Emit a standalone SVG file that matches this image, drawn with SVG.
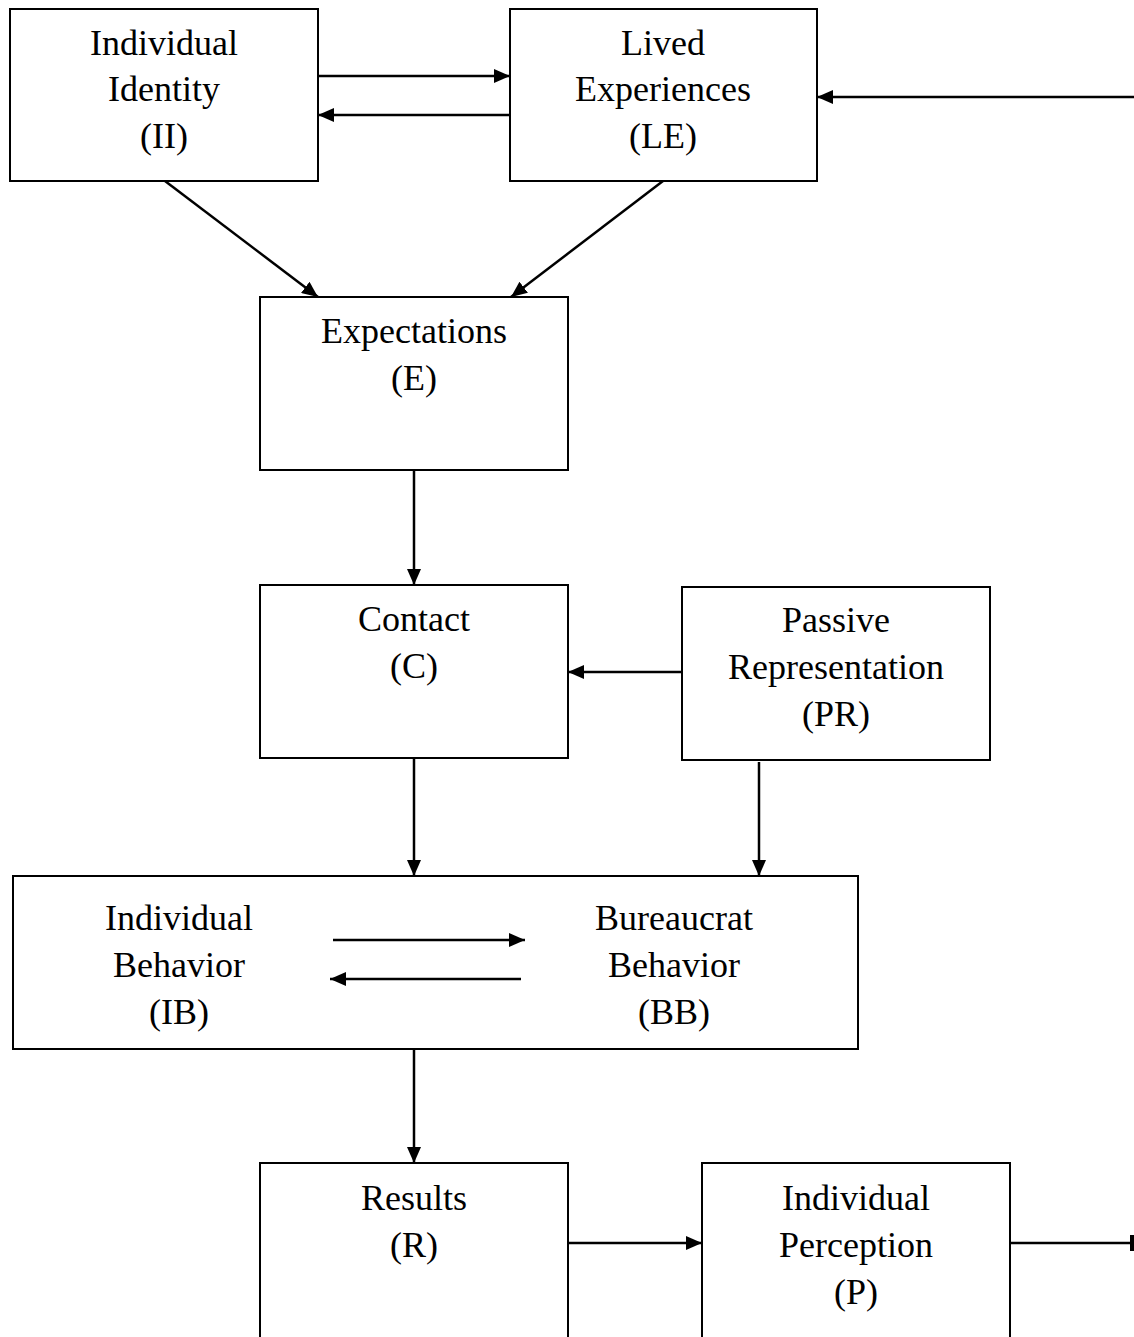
<svg xmlns="http://www.w3.org/2000/svg" width="1134" height="1337" viewBox="0 0 1134 1337">
<style>
.box{fill:#fff;stroke:#000;stroke-width:2}
.t{font-family:"Liberation Serif","Times New Roman",serif;font-size:36px;fill:#000;text-anchor:middle}
.c{stroke:#000;stroke-width:2.5;fill:none}
</style>
<defs>
<marker id="ah" viewBox="0 0 16 14" refX="16" refY="7" markerWidth="16" markerHeight="14" markerUnits="userSpaceOnUse" orient="auto">
<path d="M0,0 L16,7 L0,14 Z" fill="#000"/>
</marker>
<marker id="tick" viewBox="0 0 4 16" refX="2" refY="8" markerWidth="4" markerHeight="16" markerUnits="userSpaceOnUse" orient="auto">
<rect x="0" y="0" width="4" height="16" fill="#000"/>
</marker>
</defs>
<rect width="1134" height="1337" fill="#fff"/>
<g id="II"><rect class="box" x="10" y="9" width="308" height="172"/>
<text class="t" x="164" y="55">Individual</text><text class="t" x="164" y="101">Identity</text><text class="t" x="164" y="148">(II)</text></g>
<g id="LE"><rect class="box" x="510" y="9" width="307" height="172"/>
<text class="t" x="663" y="55">Lived</text><text class="t" x="663" y="101">Experiences</text><text class="t" x="663" y="148">(LE)</text></g>
<g id="E"><rect class="box" x="260" y="297" width="308" height="173"/>
<text class="t" x="414" y="343">Expectations</text><text class="t" x="414" y="390">(E)</text></g>
<g id="C"><rect class="box" x="260" y="585" width="308" height="173"/>
<text class="t" x="414" y="631">Contact</text><text class="t" x="414" y="678">(C)</text></g>
<g id="PR"><rect class="box" x="682" y="587" width="308" height="173"/>
<text class="t" x="836" y="632">Passive</text><text class="t" x="836" y="679">Representation</text><text class="t" x="836" y="726">(PR)</text></g>
<g id="IBBB"><rect class="box" x="13" y="876" width="845" height="173"/>
<text class="t" x="179" y="930">Individual</text><text class="t" x="179" y="977">Behavior</text><text class="t" x="179" y="1024">(IB)</text>
<text class="t" x="674" y="930">Bureaucrat</text><text class="t" x="674" y="977">Behavior</text><text class="t" x="674" y="1024">(BB)</text></g>
<g id="R"><rect class="box" x="260" y="1163" width="308" height="180"/>
<text class="t" x="414" y="1210">Results</text><text class="t" x="414" y="1257">(R)</text></g>
<g id="P"><rect class="box" x="702" y="1163" width="308" height="180"/>
<text class="t" x="856" y="1210">Individual</text><text class="t" x="856" y="1257">Perception</text><text class="t" x="856" y="1304">(P)</text></g>
<g id="connectors">
<line class="c" x1="318" y1="76" x2="510" y2="76" marker-end="url(#ah)"/>
<line class="c" x1="510" y1="115" x2="318" y2="115" marker-end="url(#ah)"/>
<line class="c" x1="1134" y1="97" x2="817" y2="97" marker-end="url(#ah)"/>
<line class="c" x1="165" y1="181" x2="318" y2="297" marker-end="url(#ah)"/>
<line class="c" x1="663" y1="181" x2="511" y2="297" marker-end="url(#ah)"/>
<line class="c" x1="414" y1="470" x2="414" y2="585" marker-end="url(#ah)"/>
<line class="c" x1="682" y1="672" x2="568" y2="672" marker-end="url(#ah)"/>
<line class="c" x1="414" y1="758" x2="414" y2="876" marker-end="url(#ah)"/>
<line class="c" x1="759" y1="762" x2="759" y2="876" marker-end="url(#ah)"/>
<line class="c" x1="333" y1="940" x2="525" y2="940" marker-end="url(#ah)"/>
<line class="c" x1="521" y1="979" x2="330" y2="979" marker-end="url(#ah)"/>
<line class="c" x1="414" y1="1049" x2="414" y2="1163" marker-end="url(#ah)"/>
<line class="c" x1="568" y1="1243" x2="702" y2="1243" marker-end="url(#ah)"/>
<line class="c" x1="1010" y1="1243" x2="1132" y2="1243" marker-end="url(#tick)"/>
</g>
</svg>
